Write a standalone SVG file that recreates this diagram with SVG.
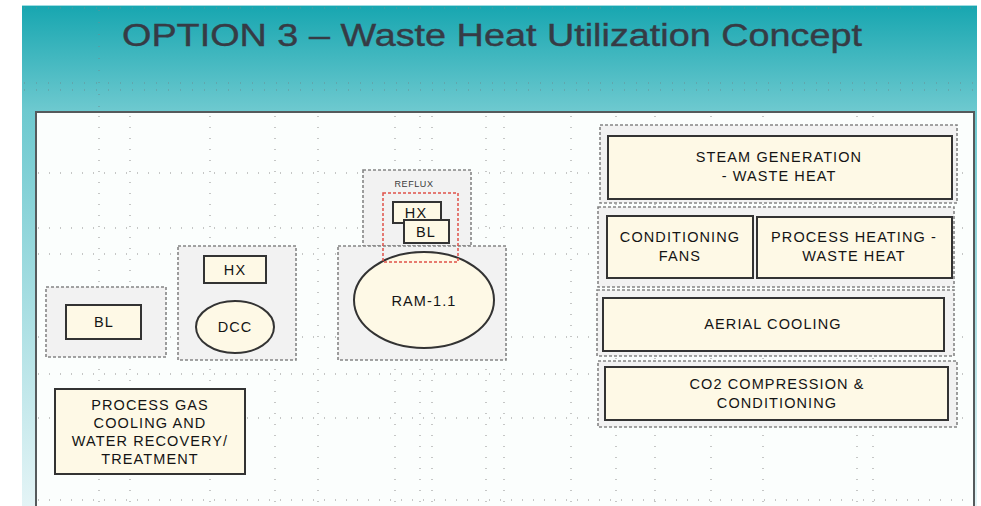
<svg xmlns="http://www.w3.org/2000/svg" width="981" height="506" viewBox="0 0 981 506">
  <defs>
    <linearGradient id="slideBg" x1="0" y1="0" x2="0" y2="1">
      <stop offset="0" stop-color="#17a6b0"/>
      <stop offset="0.21" stop-color="#6dc9cf"/>
      <stop offset="1" stop-color="#e4f4f6"/>
    </linearGradient>
  </defs>
  <style>
    .grid { stroke: #8f8f8f; stroke-width: 1; stroke-dasharray: 1 10; fill: none; }
    .gridT { stroke: #6a8f94; stroke-width: 1; stroke-dasharray: 1 11; fill: none; }
    .group { fill: #f2f2f2; stroke: #858585; stroke-width: 1.6; stroke-dasharray: 3 2; }
    .unit { fill: #fef9e6; stroke: #333333; stroke-width: 2; }
    .label { font-family: "Liberation Sans", Arial, sans-serif; font-size: 14.5px; fill: #141414; text-anchor: middle; letter-spacing: 1.1px; }
    .title { font-family: "Liberation Sans", Arial, sans-serif; font-size: 31px; fill: #363b45; stroke: #363b45; stroke-width: 0.4; }
  </style>

  <!-- slide background -->
  <rect x="22" y="5" width="955" height="501" fill="url(#slideBg)"/>
  <line x1="22" y1="5.5" x2="977" y2="5.5" stroke="#9fdde2" stroke-width="1"/>

  <!-- guide dots in the header -->
  <g id="header-guides">
    <line class="gridT" x1="24" y1="8" x2="977" y2="8"/>
    <line class="gridT" x1="24" y1="83" x2="977" y2="83"/>
    <line class="gridT" x1="24" y1="90" x2="977" y2="90"/>
    <line class="gridT" x1="99" y1="10" x2="99" y2="110"/>
  </g>

  <text class="title" x="122" y="46" textLength="740" lengthAdjust="spacingAndGlyphs">OPTION 3 – Waste Heat Utilization Concept</text>

  <!-- drawing panel -->
  <rect x="36" y="112" width="938" height="400" fill="#fbfefd" stroke="#555a5c" stroke-width="2"/>

  <!-- guide dots in the panel -->
  <g id="panel-guides">
    <line class="grid" x1="38" y1="173" x2="972" y2="173"/>
    <line class="grid" x1="38" y1="228" x2="972" y2="228"/>
    <line class="grid" x1="38" y1="254" x2="972" y2="254"/>
    <line class="grid" x1="38" y1="337" x2="972" y2="337"/>
    <line class="grid" x1="38" y1="374" x2="972" y2="374"/>
    <line class="grid" x1="38" y1="418" x2="972" y2="418"/>
    <line class="grid" x1="38" y1="500" x2="972" y2="500"/>
    <line class="grid" x1="99" y1="116" x2="99" y2="506"/>
    <line class="grid" x1="130" y1="116" x2="130" y2="506"/>
    <line class="grid" x1="210" y1="116" x2="210" y2="506"/>
    <line class="grid" x1="275" y1="116" x2="275" y2="506"/>
    <line class="grid" x1="318" y1="116" x2="318" y2="506"/>
    <line class="grid" x1="395" y1="116" x2="395" y2="506"/>
    <line class="grid" x1="420" y1="116" x2="420" y2="506"/>
    <line class="grid" x1="432" y1="116" x2="432" y2="506"/>
    <line class="grid" x1="486" y1="116" x2="486" y2="506"/>
    <line class="grid" x1="504" y1="116" x2="504" y2="506"/>
    <line class="grid" x1="571" y1="116" x2="571" y2="506"/>
    <line class="grid" x1="616" y1="116" x2="616" y2="506"/>
    <line class="grid" x1="655" y1="116" x2="655" y2="506"/>
    <line class="grid" x1="711" y1="116" x2="711" y2="506"/>
    <line class="grid" x1="763" y1="116" x2="763" y2="506"/>
    <line class="grid" x1="857" y1="116" x2="857" y2="506"/>
    <line class="grid" x1="873" y1="116" x2="873" y2="506"/>
  </g>

  <g id="connectors"></g>

  <!-- blower -->
  <g id="bl-group">
    <rect class="group" x="46" y="287" width="120" height="70"/>
    <rect class="unit" x="66" y="305" width="75" height="34"/>
    <text class="label" x="104" y="327">BL</text>
  </g>

  <!-- heat exchanger and direct contact cooler -->
  <g id="hx-dcc-group">
    <rect class="group" x="178" y="246" width="118" height="114"/>
    <rect class="unit" x="204" y="256" width="62" height="27"/>
    <text class="label" x="235" y="275">HX</text>
    <ellipse class="unit" cx="235" cy="327" rx="39" ry="26"/>
    <text class="label" x="235" y="332">DCC</text>
  </g>

  <!-- reflux skid -->
  <g id="reflux-group">
    <rect class="group" x="363" y="170" width="108" height="76"/>
    <text x="414" y="187" font-family="Liberation Sans, Arial, sans-serif" font-size="9" fill="#3a3a3a" text-anchor="middle" letter-spacing="0.6">REFLUX</text>
  </g>

  <!-- absorber -->
  <g id="ram-group">
    <rect class="group" x="338" y="246" width="168" height="114"/>
    <ellipse class="unit" cx="424" cy="300" rx="70" ry="48"/>
    <text class="label" x="424" y="306" font-size="15.5">RAM-1.1</text>
  </g>

  <g id="reflux-units">
    <rect class="unit" x="393" y="202" width="48" height="21"/>
    <text class="label" x="416" y="218" font-size="12.5">HX</text>
    <rect class="unit" x="404" y="220" width="45" height="23"/>
    <text class="label" x="426" y="237" font-size="12.5">BL</text>
    <rect x="383" y="193" width="75" height="69" fill="none" stroke="#e0524a" stroke-width="1.5" stroke-dasharray="3 2"/>
  </g>

  <!-- process gas treatment -->
  <g id="process-gas">
    <rect class="unit" x="55" y="389" width="190" height="85"/>
    <text class="label" x="150" y="410">PROCESS GAS</text>
    <text class="label" x="150" y="428">COOLING AND</text>
    <text class="label" x="150" y="446">WATER RECOVERY/</text>
    <text class="label" x="150" y="464">TREATMENT</text>
  </g>

  <!-- waste heat users -->
  <g id="steam-generation">
    <rect class="group" x="600" y="125" width="357" height="78"/>
    <rect class="unit" x="608" y="136" width="344" height="63"/>
    <text class="label" x="779" y="162">STEAM GENERATION</text>
    <text class="label" x="779" y="181">- WASTE HEAT</text>
  </g>

  <g id="fans-heating">
    <rect class="group" x="598" y="207" width="356" height="80"/>
    <rect class="unit" x="607" y="216" width="146" height="62"/>
    <text class="label" x="680" y="242">CONDITIONING</text>
    <text class="label" x="680" y="261">FANS</text>
    <rect class="unit" x="757" y="217" width="195" height="61"/>
    <text class="label" x="854" y="242">PROCESS HEATING -</text>
    <text class="label" x="854" y="261">WASTE HEAT</text>
  </g>

  <g id="aerial-cooling">
    <rect class="group" x="597" y="290" width="357" height="66"/>
    <rect class="unit" x="603" y="298" width="341" height="53"/>
    <text class="label" x="773" y="329">AERIAL COOLING</text>
  </g>

  <g id="co2-compression">
    <rect class="group" x="598" y="361" width="359" height="66"/>
    <rect class="unit" x="605" y="367" width="343" height="53"/>
    <text class="label" x="777" y="389">CO2 COMPRESSION &amp;</text>
    <text class="label" x="777" y="408">CONDITIONING</text>
  </g>
</svg>
